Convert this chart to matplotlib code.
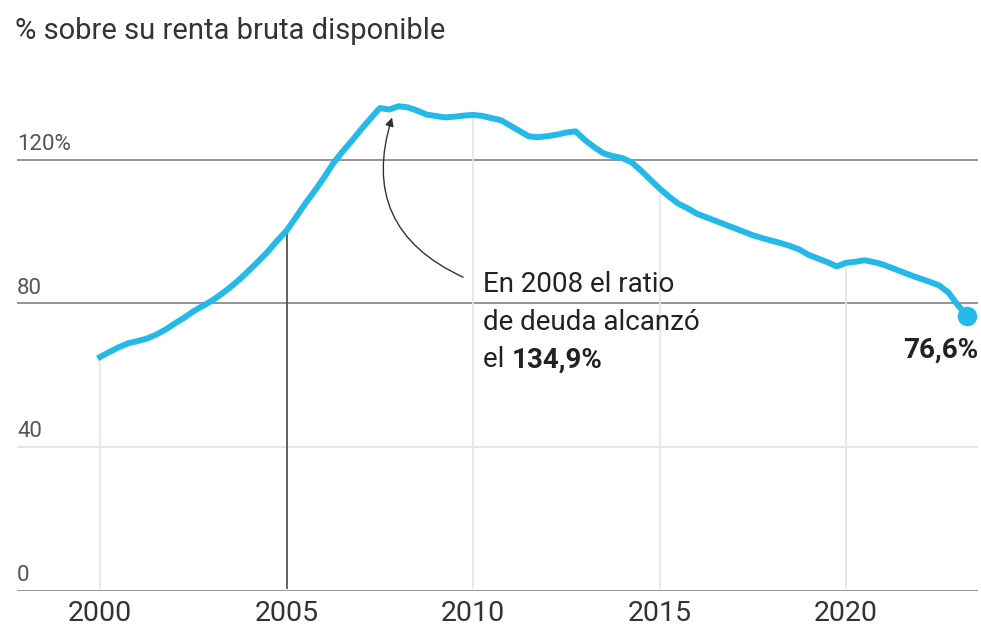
import matplotlib
matplotlib.use("Agg")
import matplotlib.pyplot as plt
import matplotlib.transforms as mtransforms
from matplotlib.patches import FancyArrowPatch
import numpy as np

plt.rcParams['font.family'] = ['Roboto', 'DejaVu Sans']

# Quarterly household debt ratio (% of gross disposable income), 2000Q1 - 2023Q2
start_year = 2000
values = [
    65.1, 66.5, 67.8, 68.9,
    69.5, 70.2, 71.3, 72.7,
    74.4, 76.0, 77.8, 79.3,
    80.8, 82.6, 84.6, 86.8,
    89.3, 91.8, 94.5, 97.5,
    100.3, 104.0, 107.8, 111.3,
    115.0, 119.0, 122.3, 125.3,
    128.5, 131.5, 134.4, 134.0,
    134.9, 134.6, 133.7, 132.6,
    132.2, 131.8, 132.0, 132.3,
    132.5, 132.2, 131.6, 131.0,
    129.5, 128.0, 126.5, 126.3,
    126.6, 127.0, 127.6, 127.9,
    125.5, 123.5, 121.8, 121.0,
    120.5, 119.3, 117.0, 114.5,
    112.0, 109.8, 107.8, 106.5,
    105.0, 104.0, 103.0, 102.0,
    101.0, 100.0, 99.0, 98.2,
    97.5, 96.8, 96.0, 95.0,
    93.5, 92.5, 91.5, 90.3,
    91.3, 91.6, 92.0, 91.5,
    90.8, 89.8, 88.8, 87.8,
    86.9, 86.0, 85.0, 83.0,
    79.5, 76.6,
]
x_ticks = [2000, 2005, 2010, 2015, 2020]
y_ticks = [0, 40, 80, 120]
y_labels = ["0", "40", "80", "120%"]
title = "% sobre su renta bruta disponible"
last_label = "76,6%"
note_lines = ["En 2008 el ratio", "de deuda alcanzó", "el "]
note_bold = "134,9%"

years = start_year + np.arange(len(values)) / 4.0
vals = np.array(values)

W, H = 981, 630
fig = plt.figure(figsize=(W / 100, H / 100), dpi=100)
left_px, right_px = 17, 978
bottom_px, top_px = 590.7, 70
ax = fig.add_axes([left_px / W, (H - bottom_px) / H,
                   (right_px - left_px) / W, (bottom_px - top_px) / H])
ax.set_xlim(1997.77, 2023.54)
ax.set_ylim(0, 145)
for s in ax.spines.values():
    s.set_visible(False)
ax.set_yticks([])
ax.set_xticks(x_ticks)
ax.set_xticklabels([str(t) for t in x_ticks], fontsize=20.5, color='#333333')
ax.tick_params(axis='x', length=0, pad=7)

# horizontal grid lines
grid_style = {0: ('#9a9a9a', 2.2), 40: ('#e2e2e6', 1.2), 80: ('#8c8c8c', 1.3), 120: ('#8c8c8c', 1.3)}
for v in y_ticks:
    c, lw = grid_style[v]
    ax.axhline(v, color=c, lw=lw, zorder=1)

trans = mtransforms.blended_transform_factory(ax.transAxes, ax.transData)
for v, lab in zip(y_ticks, y_labels):
    ax.text(0.0, v + 1.3, lab, transform=trans, ha='left', va='bottom',
            fontsize=16, color='#555555')

# vertical lines from 0 up to the series
for xt in x_ticks:
    yv = np.interp(xt, years, vals)
    if xt == 2005:
        ax.plot([xt, xt], [0.8, yv], color='#555555', lw=1.3, zorder=2)
    else:
        ax.plot([xt, xt], [0.8, yv], color='#e4e4ea', lw=1.2, zorder=2)

ax.plot(years, vals, color='#25b9ea', lw=4.3, zorder=4)
ax.plot(years[-1], vals[-1], 'o', color='#25b9ea', ms=13, zorder=5)

ax.text(2023.54, 67.0, last_label, ha='right', va='center',
        fontsize=20, fontweight='bold', color='#222222')

# annotation
note_x = 2010.27
note_y = [85.2, 74.6, 64.3]
t_last = None
for line, yy in zip(note_lines, note_y):
    t_last = ax.text(note_x, yy, line, ha='left', va='center',
                     fontsize=20, color='#222222')
ax.annotate(note_bold, xy=(1, 0.5), xycoords=t_last, ha='left', va='center',
            fontsize=20, fontweight='bold', color='#222222')

arrow = FancyArrowPatch((2009.8, 87.0), (2007.85, 132.5),
                        connectionstyle="arc3,rad=-0.45",
                        arrowstyle='-|>,head_length=5,head_width=2.5',
                        color='#333333', lw=1.0, zorder=6)
ax.add_patch(arrow)

fig.text(15 / W, 1 - 31 / H, title, ha='left', va='center', fontsize=21,
         color='#333333')

fig.savefig('out.png', dpi=100, facecolor='white')
